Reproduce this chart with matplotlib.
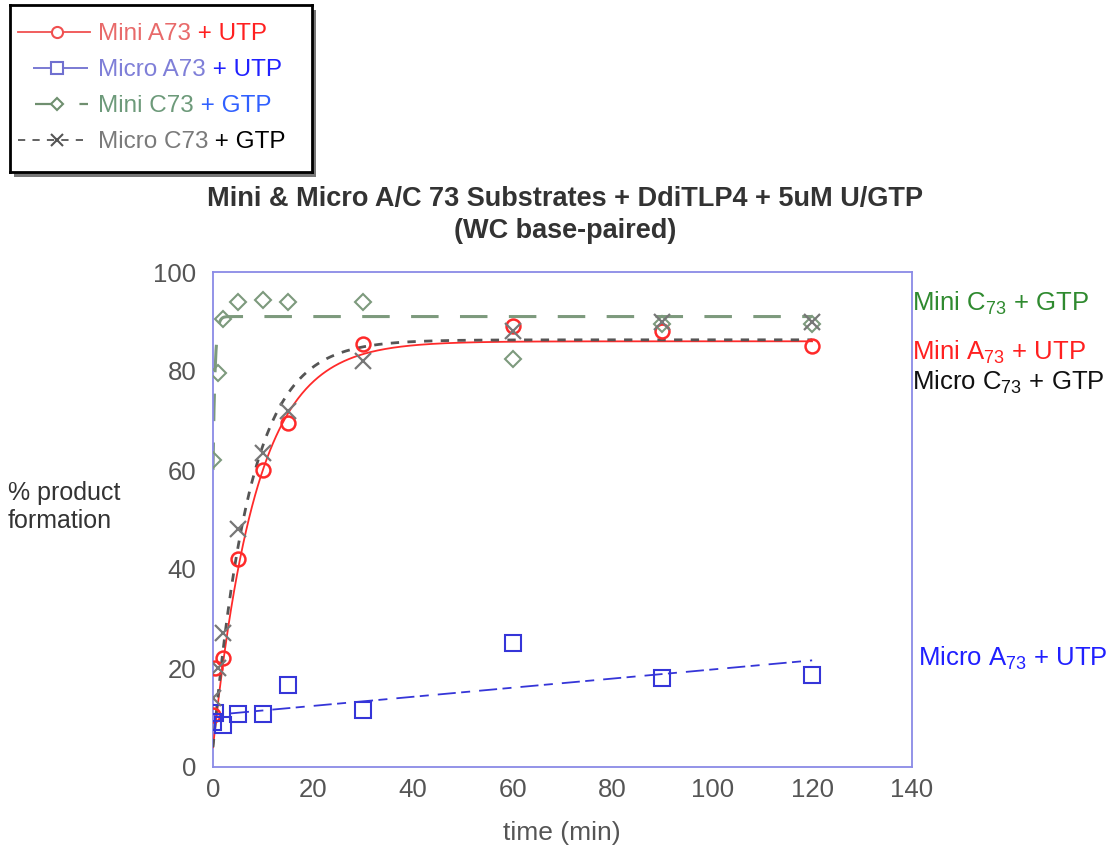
import numpy as np
import matplotlib
matplotlib.use("Agg")
import matplotlib.pyplot as plt
from matplotlib.lines import Line2D
from matplotlib.patches import Rectangle

# ---------------- data ----------------
t_mini_a = [0, 0.5, 2, 5, 10, 15, 30, 60, 90, 120]
y_mini_a = [10.5, 20, 22, 42, 60, 69.5, 85.5, 89, 88, 85]

t_micro_a = [0, 0.5, 2, 5, 10, 15, 30, 60, 90, 120]
y_micro_a = [9, 11, 8.5, 10.7, 10.7, 16.5, 11.5, 25, 18, 18.5]

t_mini_c = [0, 1, 2, 5, 10, 15, 30, 60, 90, 120]
y_mini_c = [62, 79.5, 90.5, 94, 94.3, 94, 94, 82.5, 89.5, 89.5]

t_micro_c = [0, 1, 2, 5, 10, 15, 30, 60, 90, 120]
y_micro_c = [14, 20, 27, 48, 63.5, 72, 82, 88, 90, 90]

# fitted curves: (start, plateau, rate) for y = y0 + (ymax - y0) * (1 - exp(-k t))
fit_mini_a = (4.0, 86.0, 0.115)
fit_micro_c = (4.0, 86.3, 0.135)
fit_mini_c = (60.0, 91.0, 2.5)
fit_micro_a = (10.5, 0.092)   # linear: intercept, slope

x_ticks = [0, 20, 40, 60, 80, 100, 120, 140]
y_ticks = [0, 20, 40, 60, 80, 100]

title = "Mini & Micro A/C 73 Substrates + DdiTLP4 + 5uM U/GTP\n(WC base-paired)"

# ---------------- style ----------------
RED = "#ff2a2a"
BLUE = "#3535d8"
GREEN = "#7d9a7d"
SANS = ["Liberation Sans", "DejaVu Sans"]

W, H = 1116, 858
fig = plt.figure(figsize=(W / 100, H / 100), dpi=100)


def fx(px):
    return px / W


def fy(py):
    return 1 - py / H


ax = fig.add_axes([fx(213), fy(767), fx(912 - 213), (767 - 272) / H])
ax.set_xlim(0, 140)
ax.set_ylim(0, 100)
for s in ax.spines.values():
    s.set_color("#8a8ae6")
    s.set_linewidth(1.3)
ax.set_xticks(x_ticks)
ax.set_yticks(y_ticks)
ax.tick_params(length=0, labelsize=18.5, labelcolor="#555555")
ax.tick_params(axis="x", pad=8)
ax.tick_params(axis="y", pad=12)
for lab in ax.get_xticklabels() + ax.get_yticklabels():
    lab.set_family(SANS)

tt = np.linspace(0, 120, 600)


def expfit(p, t):
    y0, ym, k = p
    return y0 + (ym - y0) * (1 - np.exp(-k * t))


# fit lines
ax.plot(tt, expfit(fit_mini_c, tt), color=GREEN, lw=2.2, dashes=(9, 7), zorder=2)
ax.plot(tt, expfit(fit_mini_a, tt), color=RED, lw=1.3, zorder=3)
ax.plot(tt, expfit(fit_micro_c, tt), color="#555555", lw=2.0, dashes=(3, 3), zorder=3)
ax.plot(tt, fit_micro_a[0] + fit_micro_a[1] * tt, color=BLUE, lw=1.3,
        dashes=(5, 5, 10, 3), zorder=2)

# data points
ax.plot(t_mini_a, y_mini_a, ls="none", marker="o", ms=10, mfc="none", mec=RED, mew=1.8, zorder=4)
ax.plot(t_micro_a, y_micro_a, ls="none", marker="s", ms=11, mfc="none", mec=BLUE, mew=1.5, zorder=4)
ax.plot(t_mini_c, y_mini_c, ls="none", marker="D", ms=8, mfc="none", mec=GREEN, mew=1.5, zorder=4)
ax.plot(t_micro_c, y_micro_c, ls="none", marker="x", ms=11, mec="#777777", mew=1.6, zorder=4)

# title & labels
fig.text(fx(565), fy(215), title, ha="center", va="center", fontsize=19.5,
         fontweight="bold", family=SANS, color="#333333", linespacing=1.3)
fig.text(fx(562), fy(833), "time (min)", ha="center", va="center", fontsize=19,
         family=SANS, color="#555555")
fig.text(fx(8), fy(507), "% product\nformation", ha="left", va="center", fontsize=18,
         family=SANS, color="#333333", linespacing=1.25)

# right-side labels
sub = r"$\mathregular{_{73}}$"
RFS = 18.5
fig.text(fx(912), fy(303), "Mini C" + sub + " + GTP", ha="left", va="center",
         fontsize=RFS, family=SANS, color="#2f8a2f")
fig.text(fx(912), fy(352), "Mini A" + sub + " + UTP", ha="left", va="center",
         fontsize=RFS, family=SANS, color="#ff2020")
fig.text(fx(912), fy(382), "Micro C" + sub + " + GTP", ha="left", va="center",
         fontsize=RFS, family=SANS, color="#111111")
fig.text(fx(918), fy(658), "Micro A" + sub + " + UTP", ha="left", va="center",
         fontsize=RFS, family=SANS, color="#2020ff")

# legend box (shadow + framed axes)
fig.patches.append(Rectangle((fx(14), fy(177)), fx(302), 167 / H, transform=fig.transFigure,
                             facecolor="#777777", edgecolor="none", zorder=0))
lax = fig.add_axes([fx(10), fy(172), fx(302), 167 / H])
lax.set_xlim(0, 302)
lax.set_ylim(167, 0)
lax.set_xticks([])
lax.set_yticks([])
for s in lax.spines.values():
    s.set_linewidth(2)
    s.set_color("black")
lax.set_zorder(1)

legend_rows = [
    (27, dict(color="#f05050", lw=1.3), (8, 80), "o", "#f05050", "Mini A73", "#e86a6a", " + UTP", "#ff2020"),
    (63, dict(color="#7070d0", lw=1.3, dashes=(14, 3)), (23, 78), "s", "#7070d0", "Micro A73", "#7f7fd8", " + UTP", "#2020ff"),
    (99, dict(color="#6f8f6f", lw=1.6, dashes=(12, 8)), (25, 78), "D", "#6f8f6f", "Mini C73", "#6d9a7a", " + GTP", "#3060ff"),
    (135, dict(color="#555555", lw=1.3, dashes=(4, 4)), (8, 80), "x", "#555555", "Micro C73", "#7a7a7a", " + GTP", "#000000"),
]
fig.canvas.draw()
rend = fig.canvas.get_renderer()
for yrow, lstyle, (x0, x1), mk, mcol, lab1, c1, lab2, c2 in legend_rows:
    lax.add_line(Line2D([x0, x1], [yrow, yrow], **lstyle))
    lax.plot([47], [yrow], marker=mk, ms=8 if mk != "D" else 6, mfc="white" if mk != "x" else "none",
             mec=mcol, mew=1.5, ls="none")
    t1 = lax.text(88, yrow + 2, lab1, ha="left", va="center", fontsize=17.5,
                  family=SANS, color=c1)
    bb = t1.get_window_extent(renderer=rend)
    x_end = lax.transData.inverted().transform((bb.x1, bb.y0))[0]
    lax.text(x_end, yrow + 2, lab2, ha="left", va="center", fontsize=17.5,
             family=SANS, color=c2)

fig.savefig("out.png", dpi=100)
